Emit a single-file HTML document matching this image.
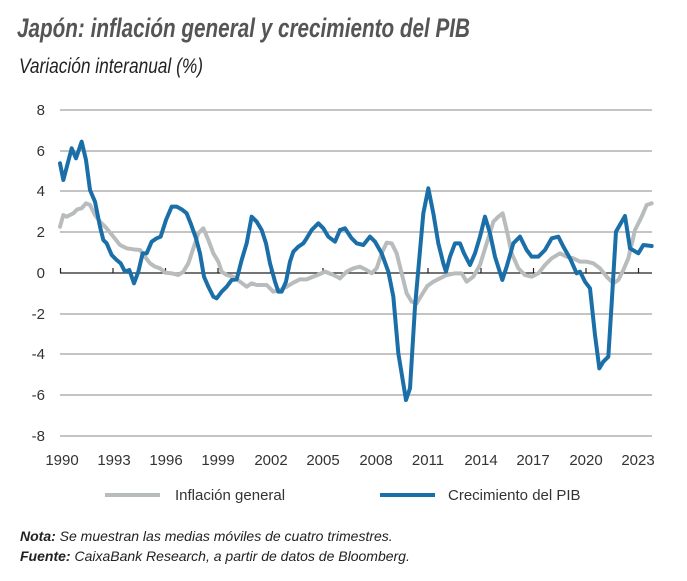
<!DOCTYPE html>
<html><head><meta charset="utf-8"><style>
html,body{margin:0;padding:0;background:#fff;}
svg{display:block;}
text{font-family:"Liberation Sans",sans-serif;}
</style></head><body>
<svg width="687" height="581" viewBox="0 0 687 581" xmlns="http://www.w3.org/2000/svg">
<rect width="687" height="581" fill="#fff"/>
<text x="17" y="37" font-size="27" font-weight="bold" font-style="italic" fill="#555" textLength="453" lengthAdjust="spacingAndGlyphs">Japón: inflación general y crecimiento del PIB</text>
<text x="19" y="73" font-size="21" font-style="italic" fill="#222" textLength="184" lengthAdjust="spacingAndGlyphs">Variación interanual (%)</text>
<g stroke="#8a8a8a" stroke-width="1">
<line x1="60" x2="652" y1="110" y2="110"/><line x1="60" x2="652" y1="151" y2="151"/>
<line x1="60" x2="652" y1="191" y2="191"/><line x1="60" x2="652" y1="232" y2="232"/>
<line x1="60" x2="652" y1="314" y2="314"/><line x1="60" x2="652" y1="354" y2="354"/>
<line x1="60" x2="652" y1="395" y2="395"/><line x1="60" x2="652" y1="436" y2="436"/>
</g>
<g stroke="#222" stroke-width="1.2">
<line x1="60" x2="652" y1="273" y2="273"/>
<line x1="60.5" x2="60.5" y1="268" y2="273"/><line x1="113" x2="113" y1="268" y2="273"/>
<line x1="165.5" x2="165.5" y1="268" y2="273"/><line x1="218" x2="218" y1="268" y2="273"/>
<line x1="270.5" x2="270.5" y1="268" y2="273"/><line x1="323" x2="323" y1="268" y2="273"/>
<line x1="375.5" x2="375.5" y1="268" y2="273"/><line x1="428" x2="428" y1="268" y2="273"/>
<line x1="481" x2="481" y1="268" y2="273"/><line x1="533.5" x2="533.5" y1="268" y2="273"/>
<line x1="586" x2="586" y1="268" y2="273"/><line x1="638.5" x2="638.5" y1="268" y2="273"/>
</g>
<g font-size="15" fill="#333" text-anchor="end">
<text x="45" y="115">8</text><text x="45" y="156">6</text><text x="45" y="196">4</text>
<text x="45" y="237">2</text><text x="45" y="278">0</text><text x="45" y="319">-2</text>
<text x="45" y="359">-4</text><text x="45" y="400">-6</text><text x="45" y="441">-8</text>
</g>
<g font-size="15" fill="#333" text-anchor="middle">
<text x="62" y="465">1990</text><text x="114" y="465">1993</text><text x="166" y="465">1996</text>
<text x="218" y="465">1999</text><text x="271" y="465">2002</text><text x="323" y="465">2005</text>
<text x="376" y="465">2008</text><text x="428" y="465">2011</text><text x="481" y="465">2014</text>
<text x="533" y="465">2017</text><text x="586" y="465">2020</text><text x="638" y="465">2023</text>
</g>
<g fill="none" stroke-linejoin="round" stroke-linecap="round" stroke-width="12">
<g transform="translate(0,90) scale(0.33333)" stroke="#b9bcbd">
<polyline points="180,410 190,375 200,380 210,375 220,370 232,358 245,355 258,340 270,345 285,375 300,395 320,415 340,440 360,465 380,475 400,478 420,480 435,500 450,520 465,530 480,535 495,548 515,550 535,555 550,545 565,520 580,475 595,430 610,415 625,450 640,490 655,515 665,545 680,555 700,560 720,575 740,590 755,580 770,585 800,585 820,605 840,600 860,590 880,578 900,568 920,568 940,560 960,552 975,545 1000,555 1020,565"/>
</g>
<g transform="translate(340,90) scale(0.33333)" stroke="#b9bcbd">
<polyline points="0,565 20,545 40,535 60,530 80,540 95,550 110,535 125,490 140,458 155,460 170,490 185,550 200,610 215,635 230,640 245,615 262,588 280,575 300,565 320,555 345,550 365,550 380,575 400,560 420,525 440,460 460,395 475,380 488,370 500,420 515,490 535,535 555,555 575,560 595,550 615,525 635,505 660,490 680,500 700,505 720,515 740,515 760,520 780,535 800,560 820,580 835,570 850,540 865,505 885,420 905,380 920,345 935,340"/>
</g>
<g transform="translate(0,90) scale(0.33333)" stroke="#1b6fa8">
<polyline points="180,220 190,270 215,175 228,205 245,155 258,210 270,300 285,335 300,410 310,450 320,460 335,495 350,510 362,520 375,545 388,540 402,580 415,545 428,490 440,490 455,455 470,445 482,440 498,390 515,350 530,350 545,358 560,370 572,400 588,445 600,490 612,560 625,590 640,620 650,625 665,605 680,590 695,570 710,568 725,510 740,460 755,380 770,395 785,420 798,460 810,520 825,575 835,605 845,605 858,575 870,515 880,485 895,470 910,460 920,445 935,420 955,400 970,415 985,440 1005,455 1020,420"/>
</g>
<g transform="translate(340,90) scale(0.33333)" stroke="#1b6fa8">
<polyline points="0,420 15,415 35,445 50,460 70,465 90,440 105,455 125,490 145,545 160,620 175,790 198,930 210,895 225,650 250,370 265,295 280,370 295,460 310,520 318,545 330,500 345,460 360,460 372,490 390,525 405,490 420,440 435,380 450,430 465,500 487,570 500,530 520,460 540,440 560,480 575,500 595,500 615,480 635,445 655,440 670,470 690,505 710,550 720,545 735,575 750,595 765,735 778,835 790,815 805,800 815,640 828,425 855,378 870,475 895,490 910,465 935,468"/>
</g>
</g>
<line x1="105" x2="160" y1="495" y2="495" stroke="#b9bcbd" stroke-width="4"/>
<text x="175" y="500" font-size="15" fill="#333">Inflación general</text>
<line x1="380" x2="435" y1="495" y2="495" stroke="#1b6fa8" stroke-width="4"/>
<text x="448" y="500" font-size="15" fill="#333">Crecimiento del PIB</text>
<text x="20" y="541" font-size="14" font-style="italic" fill="#222"><tspan font-weight="bold">Nota:</tspan> Se muestran las medias móviles de cuatro trimestres.</text>
<text x="20" y="561" font-size="14" font-style="italic" fill="#222"><tspan font-weight="bold">Fuente:</tspan> CaixaBank Research, a partir de datos de Bloomberg.</text>
</svg>
</body></html>
